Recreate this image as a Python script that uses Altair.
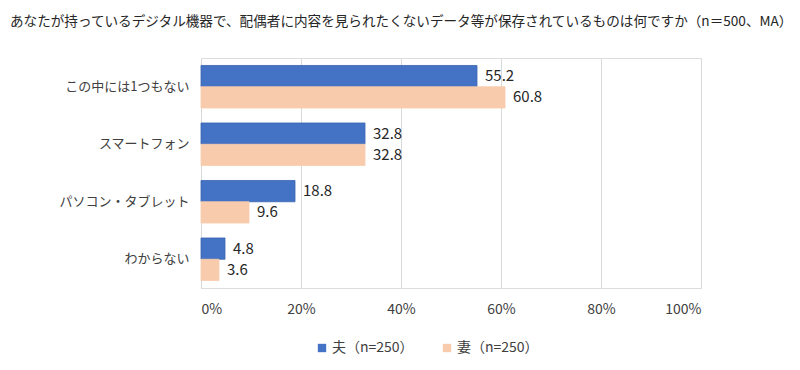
import altair as alt
import pandas as pd

title_text = "あなたが持っているデジタル機器で、配偶者に内容を見られたくないデータ等が保存されているものは何ですか（n＝500、MA）"
categories = ["この中には1つもない", "スマートフォン", "パソコン・タブレット", "わからない"]
series = ["夫（n=250）", "妻（n=250）"]
husband = [55.2, 32.8, 18.8, 4.8]
wife = [60.8, 32.8, 9.6, 3.6]
colors = ["#4472C4", "#F8CBAD"]
x_ticks = [0, 20, 40, 60, 80, 100]

rows = []
for c, h, w in zip(categories, husband, wife):
    rows.append({"cat": c, "series": series[0], "value": h})
    rows.append({"cat": c, "series": series[1], "value": w})
df = pd.DataFrame(rows)

FONT = "Noto Sans CJK JP"

y_enc = alt.Y("cat:N", sort=categories, title=None,
              scale=alt.Scale(paddingInner=0.26, paddingOuter=0.13),
              axis=alt.Axis(labelFontSize=13, labelColor="#404040", labelFont=FONT,
                            labelPadding=12, ticks=False, domain=False, grid=False))
yoff = alt.YOffset("series:N", sort=series)
x_enc = alt.X("value:Q", title=None,
              scale=alt.Scale(domain=[0, 100], nice=False),
              axis=alt.Axis(values=x_ticks, labelExpr="datum.value + '%'",
                            labelFontSize=14, labelColor="#404040", labelFont=FONT,
                            labelPadding=14, ticks=False, domain=False,
                            grid=True, gridColor="#D9D9D9", gridWidth=1))

bars = alt.Chart(df).mark_bar(strokeWidth=0.8).encode(
    y=y_enc, yOffset=yoff, x=x_enc,
    color=alt.Color("series:N", sort=series,
                    scale=alt.Scale(domain=series, range=colors),
                    legend=alt.Legend(title=None, orient="none", direction="horizontal",
                                      legendX=114, legendY=283, symbolType="square",
                                      symbolSize=70, symbolStrokeWidth=0,
                                      labelFontSize=14, labelColor="#404040",
                                      labelFont=FONT, columnPadding=26, labelOffset=3)),
    stroke=alt.Stroke("series:N", sort=series,
                      scale=alt.Scale(domain=series, range=["#3A65B0", "#F8CBAD"]),
                      legend=None),
)

labels = alt.Chart(df).mark_text(align="left", baseline="middle", dx=8,
                                 fontSize=15, color="#262626", font=FONT).encode(
    y=alt.Y("cat:N", sort=categories), yOffset=yoff, x="value:Q",
    text=alt.Text("value:Q", format=".1f"),
)

chart = alt.layer(bars, labels).properties(
    width=500, height=230,
    title=alt.TitleParams(title_text, anchor="start", fontSize=13.6, font=FONT,
                          fontWeight="normal", color="#262626", frame="group",
                          dx=-191, dy=-29, offset=0),
    autosize=alt.AutoSizeParams(type="none"),
    padding={"left": 193, "top": 50, "right": 90, "bottom": 74},
).configure_view(stroke=None).configure(background="white")

chart.save("out.html", embed_options={"renderer": "svg", "actions": False})
